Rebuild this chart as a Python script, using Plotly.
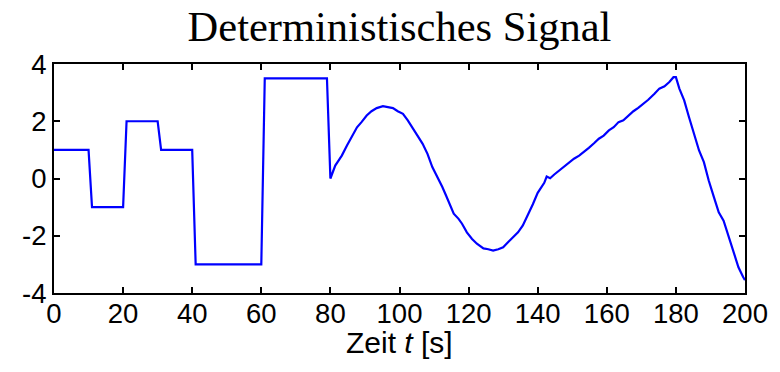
import plotly.graph_objects as go

# Step segment (t in s, value)
t_step = [0, 10, 11, 20, 21, 30, 31, 40, 41, 60, 61, 79, 80]
y_step = [1, 1, -1, -1, 2, 2, 1, 1, -3, -3, 3.5, 3.5, 0]

# Continuous segment
t_cont = [80.5, 81.4, 82.4, 83.3, 84.8, 86.3, 87.7, 89.0, 90.5, 91.9, 93.4, 95.2,
          96.7, 98.1, 99.5, 101.0, 102.4, 103.8, 105.2, 106.7, 108.1, 109.5, 111.0,
          112.4, 113.5, 114.3, 115.7, 117.1, 118.1, 119.5, 121.0, 122.4, 124.3, 125.7,
          127.1, 128.6, 130.0, 131.4, 132.9, 134.3, 135.7, 137.1, 138.6, 140.0, 141.0,
          141.9, 142.6, 143.6, 144.8, 146.2, 147.7, 149.1, 150.5, 152.0, 153.4, 154.8,
          156.3, 157.7, 159.1, 160.6, 162.0, 163.4, 164.8, 166.3, 167.7, 169.1, 170.6,
          172.0, 173.8, 175.2, 176.7, 178.1, 179.3, 180.0, 181.0, 182.4, 183.8, 185.2,
          186.7, 188.1, 189.5, 191.0, 192.4, 193.8, 195.2, 196.7, 198.1, 199.5, 200.0]
y_cont = [0.16, 0.45, 0.63, 0.8, 1.15, 1.5, 1.79, 1.97, 2.2, 2.35, 2.46, 2.53,
          2.49, 2.46, 2.35, 2.26, 2.03, 1.74, 1.5, 1.21, 0.86, 0.4, 0.05,
          -0.3, -0.6, -0.83, -1.23, -1.41, -1.58, -1.88, -2.11, -2.28, -2.44, -2.47,
          -2.52, -2.47, -2.4, -2.23, -2.05, -1.88, -1.64, -1.29, -0.9, -0.5, -0.33,
          -0.15, 0.07, 0.01, 0.14, 0.28, 0.4, 0.54, 0.69, 0.8, 0.92, 1.07,
          1.23, 1.39, 1.5, 1.68, 1.79, 1.97, 2.03, 2.2, 2.35, 2.47, 2.6,
          2.75, 2.96, 3.14, 3.22, 3.37, 3.54, 3.54, 3.14, 2.73, 2.14, 1.56,
          0.98, 0.57, -0.07, -0.65, -1.18, -1.47, -1.99, -2.63, -3.1, -3.45, -3.55]

x_ticks = [0, 20, 40, 60, 80, 100, 120, 140, 160, 180, 200]
y_ticks = [-4, -2, 0, 2, 4]

t_all = t_step + t_cont
y_all = y_step + y_cont

fig = go.Figure()
fig.add_trace(go.Scatter(x=t_all, y=y_all, mode="lines",
                         line=dict(color="#0000ff", width=2.2), showlegend=False))

sans = "Liberation Sans, Arial, sans-serif"
axis_common = dict(showline=True, linecolor="black", linewidth=2, mirror="allticks",
                   ticks="inside", ticklen=6, tickwidth=2, tickcolor="black",
                   showgrid=False, zeroline=False,
                   tickfont=dict(family=sans, size=27.5, color="black"))

fig.update_layout(
    width=780, height=372,
    paper_bgcolor="white", plot_bgcolor="white",
    margin=dict(l=54, r=26, t=64, b=79),
    title=dict(text="Deterministisches Signal", x=0.5, xref="paper", xanchor="center",
               y=1 - 26 / 372, yref="container", yanchor="middle",
               font=dict(family="Liberation Serif, Times New Roman, serif", size=42.5, color="black")),
    xaxis=dict(range=[0, 200], tickvals=x_ticks, ticktext=[str(v) for v in x_ticks],
               ticklabelstandoff=-5, **axis_common),
    yaxis=dict(range=[-4, 4], tickvals=y_ticks, ticktext=[str(v) for v in y_ticks],
               **axis_common),
    annotations=[dict(text="Zeit <i>t</i> [s]", x=0.5, xref="paper", xanchor="center",
                      y=(293 - 342) / 229, yref="paper", yanchor="middle",
                      showarrow=False, borderpad=0,
                      font=dict(family=sans, size=30, color="black"))],
)

fig.write_html("out.html")
